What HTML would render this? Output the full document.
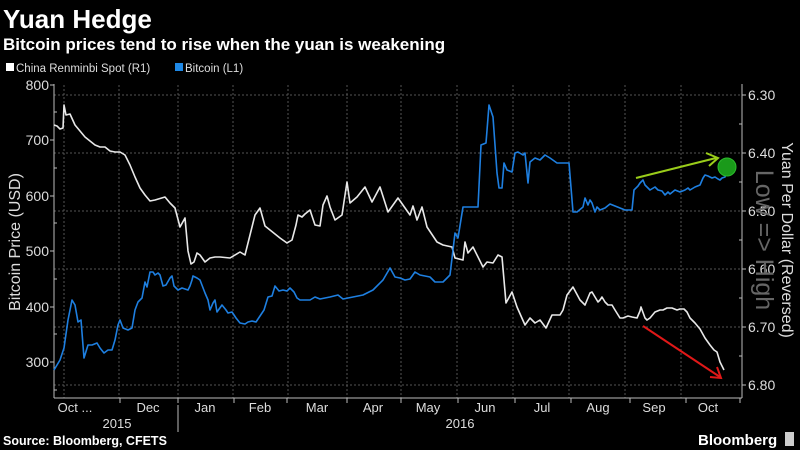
<!DOCTYPE html>
<html><head><meta charset="utf-8"><style>
html,body{margin:0;padding:0;background:#000;width:800px;height:450px;overflow:hidden}
svg{display:block}
text{font-family:"Liberation Sans",sans-serif}
</style></head><body>
<svg width="800" height="450" viewBox="0 0 800 450" xmlns="http://www.w3.org/2000/svg">
<rect width="800" height="450" fill="#000"/>
<text x="3" y="28" fill="#fff" font-size="26" font-weight="bold">Yuan Hedge</text>
<text x="3" y="50" fill="#fff" font-size="17" font-weight="bold">Bitcoin prices tend to rise when the yuan is weakening</text>
<rect x="6" y="63" width="8" height="8" fill="#fff"/>
<text x="16" y="72" fill="#ddd" font-size="11.5">China Renminbi Spot  (R1)</text>
<rect x="175" y="63" width="8" height="8" fill="#1e88e5"/>
<text x="185" y="72" fill="#ddd" font-size="11.5">Bitcoin  (L1)</text>
<g stroke="#555" stroke-dasharray="2,2" stroke-width="1">
<line x1="54" x2="742" y1="95" y2="95"/><line x1="54" x2="742" y1="153" y2="153"/><line x1="54" x2="742" y1="211" y2="211"/><line x1="54" x2="742" y1="269" y2="269"/><line x1="54" x2="742" y1="327" y2="327"/><line x1="54" x2="742" y1="385" y2="385"/>
<line x1="64" x2="64" y1="85" y2="398"/><line x1="119" x2="119" y1="85" y2="398"/><line x1="178" x2="178" y1="85" y2="398"/><line x1="233" x2="233" y1="85" y2="398"/><line x1="288" x2="288" y1="85" y2="398"/><line x1="347" x2="347" y1="85" y2="398"/><line x1="401" x2="401" y1="85" y2="398"/><line x1="457" x2="457" y1="85" y2="398"/><line x1="513" x2="513" y1="85" y2="398"/><line x1="569" x2="569" y1="85" y2="398"/><line x1="625" x2="625" y1="85" y2="398"/><line x1="681" x2="681" y1="85" y2="398"/>
</g>
<g stroke="#bbb" stroke-width="1" fill="none">
<line x1="54" y1="84" x2="54" y2="398"/><line x1="742" y1="84" x2="742" y2="398"/><line x1="54" y1="398" x2="742" y2="398"/>
<path d="M50 85H54M50 140H54M50 196H54M50 251H54M50 307H54M50 362H54M54 112H57M54 168H57M54 223H57M54 279H57M54 334H57M54 390H57"/>
<path d="M742 95H746M742 153H746M742 211H746M742 269H746M742 327H746M742 385H746M739 124H742M739 182H742M739 240H742M739 298H742M739 356H742"/>
<path d="M120 398V403M178 398V403M234 398V403M287 398V403M347 398V403M401 398V403M458 398V403M515 398V403M571 398V403M630 398V403M686 398V403M740 398V403M178 405V432"/>
</g>
<g fill="#ddd" font-size="14" text-anchor="end">
<text x="49" y="90">800</text><text x="49" y="145">700</text><text x="49" y="201">600</text><text x="49" y="256">500</text><text x="49" y="312">400</text><text x="49" y="367">300</text>
</g>
<g fill="#ddd" font-size="14">
<text x="748" y="100">6.30</text><text x="748" y="158">6.40</text><text x="748" y="216">6.50</text><text x="748" y="274">6.60</text><text x="748" y="332">6.70</text><text x="748" y="390">6.80</text>
</g>
<g fill="#ddd" font-size="13" text-anchor="middle">
<text x="75" y="412">Oct ...</text><text x="148" y="412">Dec</text><text x="205" y="412">Jan</text><text x="260" y="412">Feb</text><text x="317" y="412">Mar</text><text x="373" y="412">Apr</text><text x="428" y="412">May</text><text x="485" y="412">Jun</text><text x="542" y="412">Jul</text><text x="598" y="412">Aug</text><text x="654" y="412">Sep</text><text x="708" y="412">Oct</text>
<text x="117" y="428">2015</text><text x="460" y="428">2016</text>
</g>
<text transform="translate(20,242) rotate(-90)" fill="#ddd" font-size="16" text-anchor="middle">Bitcoin Price (USD)</text>
<text transform="translate(782,240) rotate(90)" fill="#ddd" font-size="16" text-anchor="middle">Yuan Per Dollar (Reversed)</text>
<text transform="translate(756,240) rotate(90)" fill="#666" font-size="25" text-anchor="middle">Low =&gt; High</text>
<text x="3" y="445" fill="#fff" font-size="12.5" font-weight="bold">Source: Bloomberg, CFETS</text>
<text x="698" y="445" fill="#fff" font-size="15" font-weight="bold">Bloomberg</text>
<rect x="785" y="432" width="9" height="14" fill="#ccc"/>
<polyline fill="none" stroke="#e8e8e8" stroke-width="1.6" stroke-linejoin="round" points="54,125 57,126 60,129 63,128 64,105 66,115 70,114 75,125 80,131 85,137 90,141 95,145 100,147 105,147 110,151 115,152 120,152 125,155 130,165 135,177 140,188 145,195 150,201 155,200 165,197 170,203 175,208 180,227 185,218 188,251 191,264 194,262 197,253 200,255 205,262 210,258 215,257 220,257 230,258 240,252 245,255 250,235 255,215 260,208 265,226 270,230 280,238 287,243 292,240 296,225 298,215 302,217 305,214 310,210 315,225 320,226 323,205 327,196 330,207 335,220 342,215 347,182 350,203 357,197 365,187 372,202 380,187 388,212 398,198 410,215 413,206 417,220 422,207 427,227 437,242 443,245 452,247 455,258 463,260 465,242 468,253 473,247 483,267 487,262 493,263 498,255 502,257 506,303 512,292 517,307 525,325 530,318 535,323 540,320 546,328 552,315 560,315 563,310 567,295 573,287 580,300 585,305 590,293 592,292 595,297 598,302 600,300 602,297 605,302 608,305 612,305 615,310 620,318 623,318 628,316 632,317 637,318 640,311 641,307 645,318 647,320 650,318 655,312 660,310 663,310 667,308 672,308 677,310 680,309 684,309 687,312 690,318 695,323 700,329 705,338 710,345 714,350 717,352 720,362 724,370"/>
<polyline fill="none" stroke="#1e7fe0" stroke-width="1.6" stroke-linejoin="round" points="54,370 60,360 64,348 68,320 72,300 75,305 78,322 81,320 84,358 88,345 92,345 97,343 100,348 104,353 108,350 112,350 115,340 118,325 120,320 123,328 128,330 132,328 135,310 138,302 142,298 145,282 147,287 150,272 153,272 155,275 158,273 160,275 163,286 166,285 170,278 172,276 174,286 178,290 182,288 188,290 190,286 192,280 193,276 197,278 200,280 205,293 208,300 210,310 213,303 215,300 217,312 222,305 226,310 228,313 232,312 236,318 240,323 245,324 248,322 252,321 256,322 260,316 264,310 268,297 272,296 275,286 279,291 283,290 287,291 290,288 294,292 297,298 300,300 305,300 310,300 315,297 320,299 325,298 330,297 338,295 343,299 363,295 373,290 383,280 390,268 395,277 400,278 405,280 410,279 415,272 420,275 430,277 435,282 443,282 450,275 455,233 458,238 463,207 478,207 481,145 486,143 489,105 493,117 497,173 499,188 502,188 504,163 507,170 512,172 515,153 518,152 523,155 525,153 528,183 530,162 535,158 540,160 545,155 550,158 557,163 569,163 573,212 577,212 583,207 585,198 588,205 590,200 592,203 595,212 597,207 600,210 605,208 610,204 615,206 620,208 625,210 628,210 632,210 634,190 638,186 640,183 643,180 645,185 648,188 650,190 655,187 658,190 662,191 665,195 668,192 670,194 675,190 680,192 685,190 688,188 690,190 695,187 700,185 703,178 705,175 708,176 712,178 715,177 718,179 720,180 722,178 725,177 727,170 728,168"/>
<line x1="636" y1="178" x2="716" y2="158" stroke="#9acd1a" stroke-width="2"/>
<path d="M706 153 L718 158 L709 166" fill="none" stroke="#9acd1a" stroke-width="2"/>
<circle cx="727" cy="167" r="9" fill="#1a9a1a" stroke="#2dbb2d" stroke-width="1"/>
<line x1="643" y1="326" x2="720" y2="377" stroke="#e01818" stroke-width="2"/>
<path d="M710 377 L721 378 L717 367" fill="none" stroke="#e01818" stroke-width="2"/>
</svg>
</body></html>
